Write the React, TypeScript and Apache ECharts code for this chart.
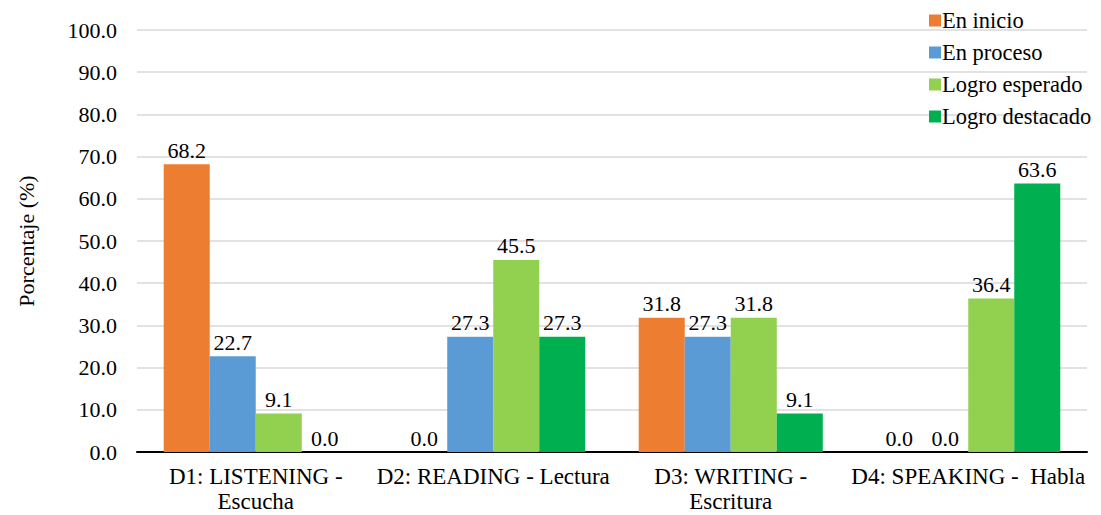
import React, { useEffect, useRef } from "react";
import * as echarts from "echarts";

const categories = ["D1: LISTENING -\nEscucha", "D2: READING - Lectura", "D3: WRITING -\nEscritura", "D4: SPEAKING -  Habla"];
const seriesNames = ["En inicio", "En proceso", "Logro esperado", "Logro destacado"];
const enInicio = [68.2, 0.0, 31.8, 0.0];
const enProceso = [22.7, 27.3, 27.3, 0.0];
const logroEsperado = [9.1, 45.5, 31.8, 36.4];
const logroDestacado = [0.0, 27.3, 9.1, 63.6];
const colors = ["#ED7D31", "#5B9BD5", "#92D050", "#00B050"];
const FONT = "'Liberation Serif', 'Times New Roman', serif";
const FS = 22;

export default function App() {
  const ref = useRef<HTMLDivElement>(null);
  useEffect(() => {
    document.body.style.margin = "0";
    const chart = echarts.init(ref.current!, undefined, { renderer: "svg" });
    const data = [enInicio, enProceso, logroEsperado, logroDestacado];
    chart.setOption({
      animation: false,
      textStyle: { fontFamily: FONT },
      grid: { left: 137, right: 14, top: 30, bottom: 63, containLabel: false, outerBoundsMode: "none" },
      legend: {
        orient: "vertical",
        left: 929,
        top: 9,
        padding: 0,
        itemWidth: 12,
        itemHeight: 12,
        itemGap: 9,
        icon: "rect",
        textStyle: { fontFamily: FONT, fontSize: 22.5, color: "#000", padding: [0, 0, 0, -4] },
        data: seriesNames,
      },
      xAxis: {
        type: "category",
        data: categories,
        axisLine: { lineStyle: { color: "#000", width: 2 } },
        axisTick: { show: false },
        axisLabel: { fontFamily: FONT, fontSize: 23, color: "#000", margin: 12, lineHeight: 25, interval: 0 },
      },
      yAxis: {
        type: "value",
        min: 0,
        max: 100,
        interval: 10,
        name: "Porcentaje (%)",
        nameLocation: "middle",
        nameGap: 100,
        nameTextStyle: { fontFamily: FONT, fontSize: FS, color: "#000" },
        axisLabel: { fontFamily: FONT, fontSize: FS, color: "#000", margin: 20, formatter: (v: number) => v.toFixed(1) },
        splitLine: { lineStyle: { color: "#d9d9d9", width: 1.5 } },
        axisLine: { show: false },
        axisTick: { show: false },
      },
      series: seriesNames.map((name, i) => ({
        name,
        type: "bar",
        data: data[i],
        barGap: "0%",
        barCategoryGap: "22.5%",
        itemStyle: { color: colors[i] },
        label: {
          show: true,
          position: "top",
          distance: 3,
          fontFamily: FONT,
          fontSize: FS,
          color: "#000",
          formatter: (p: any) => Number(p.value).toFixed(1),
        },
      })),
    });
    return () => chart.dispose();
  }, []);
  return <div ref={ref} style={{ width: 1101, height: 515 }} />;
}
